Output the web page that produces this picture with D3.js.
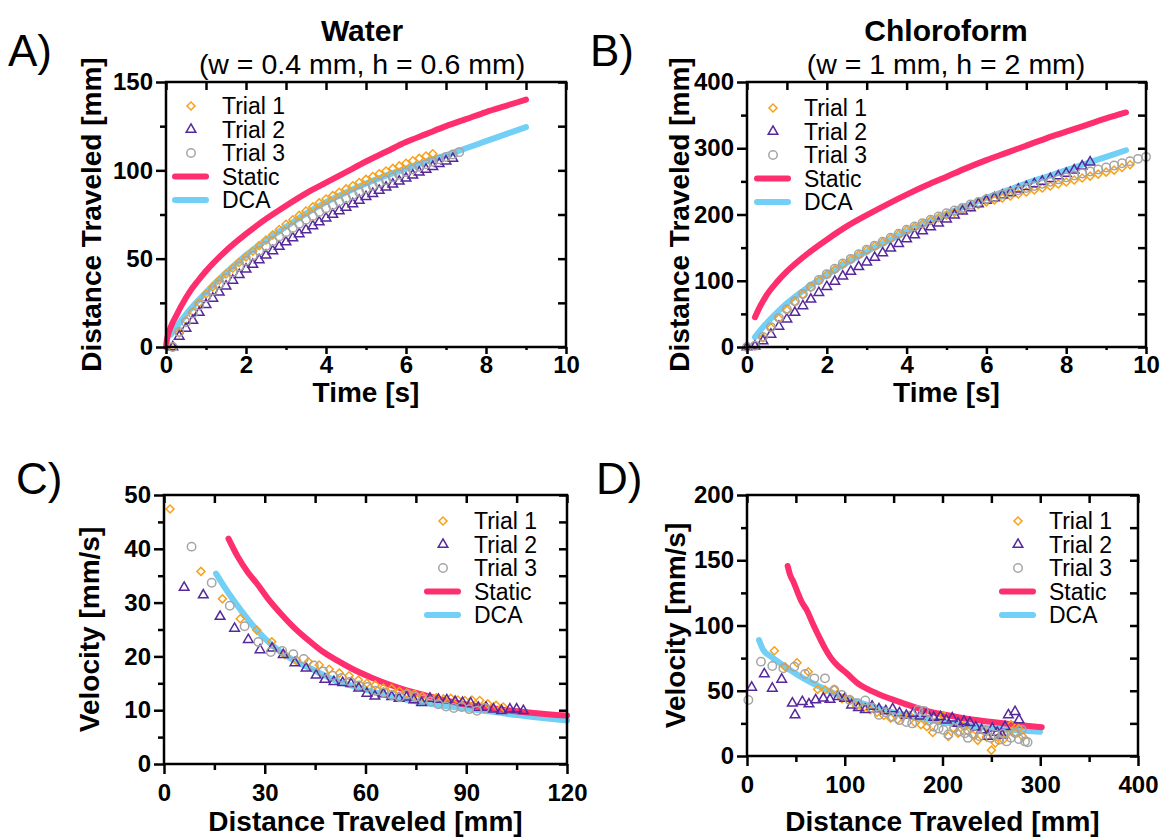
<!DOCTYPE html>
<html>
<head>
<meta charset="utf-8">
<script src="https://cdn.jsdelivr.net/npm/d3@7/dist/d3.min.js"></script>
<style>
  body { margin: 0; background: #fff; }
  svg text { font-family: "Liberation Sans", Arial, sans-serif; fill: #000; }
</style>
</head>
<body>
<svg id="fig" width="1162" height="837"></svg>
<script>
// ---------------- data ----------------
// A) water, distance vs time (frames every ~1/6 s)
var timeA = [0.17,0.33,0.5,0.67,0.83,1,1.17,1.33,1.5,1.67,1.83,2,2.17,2.33,2.5,2.67,2.83,3,3.17,3.33,3.5,3.67,3.83,4,
             4.17,4.33,4.5,4.67,4.83,5,5.17,5.33,5.5,5.67,5.83,6,6.17,6.33,6.5,6.67,6.83,7,7.17,7.33];
var distA1 = [0,8,15,20,25,30,34,37.8,41.3,44.6,47.8,51,54.2,57.4,60.5,63.5,66.5,69.5,72,74.5,77,79.3,81.6,83.8,
              85.7,87.6,89.5,91.3,93.1,94.9,96.5,98.1,99.6,101.1,102.5,104,105.4,106.8,108.1,109.4];
var distA2 = [0,6,10.5,15,19.5,24,27.5,31,34.4,37.7,40.9,44,46.7,49.3,51.9,54.4,56.9,59.4,61.7,64,66.3,68.5,70.7,72.9,
              75,77,79,81,83,85,86.8,88.6,90.4,92.1,93.8,95.5,97.2,98.9,100.5,102.1,103.7,105.2,106.7];
var distA3 = [0,8.5,14,19,23.5,28,31.8,35.4,38.9,42.3,45.6,48.8,51.7,54.5,57.2,59.9,62.5,65,67.4,69.7,72,74.2,76.4,78.5,
              80.4,82.3,84.2,86,87.8,89.6,91.2,92.8,94.4,96,97.5,99,100.5,102,103.4,104.8,106.2,107.6,109,110.3];
var staticTimeA = [0,0.03,0.08,0.15,0.25,0.4,0.6,0.8,1,1.5,2,2.5,3,3.5,4,4.5,5,5.5,6,6.5,7,7.5,8,8.5,9];
var staticDistA = [0,5,9,13,17.5,24,31.5,37.5,43,54.5,64,72.5,80,87,93,99,105,110.5,116,120.5,125,129,133,136.5,140];
var dcaTimeA = [0.12,0.25,0.5,0.75,1,1.5,2,2.5,3,3.5,4,4.5,5,5.5,6,6.5,7,7.5,8,8.5,9];
var dcaDistA = [7,11,18.5,25,31,42,52,60.5,68,75.5,82,87.5,92.5,97,101,105,108.5,112.5,116.5,120.5,124.5];

// B) chloroform, distance vs time (frames every 0.2 s)
var timeB = [0,0.2,0.4,0.6,0.8,1,1.2,1.4,1.6,1.8,2,2.2,2.4,2.6,2.8,3,3.2,3.4,3.6,3.8,4,4.2,4.4,4.6,4.8,5,
             5.2,5.4,5.6,5.8,6,6.2,6.4,6.6,6.8,7,7.2,7.4,7.6,7.8,8,8.2,8.4,8.6,8.8,9,9.2,9.4,9.6,9.8,10];
var distB1 = [0,3,14,29,43,56,68,79,90,100,109,117,125,132,139,146,152,158,164,170,176,181,186,191,195,199,
              203,207,211,215,219,222,225,228,231,234,237,240,243,246,249,252,255,258,261,264,267,271,275];
var distB2 = [0,1,9,19,31,42,52,62,72,82,91,99,107,114,121,128,135,142,149,156,163,169,175,181,187,193,
              199,205,210,216,221,225,229,233,238,242,246,250,254,258,262,267,273,279];
var distB3 = [0,2,15,30,44,57,69,80,91,101,110,118,126,133,140,147,153,159,165,171,177,182,187,192,197,202,
              206,210,215,219,223,226.5,230,233,236.5,240,243,246.5,249.5,253,256,259,262,265,268,271,274,277.5,280.5,284,287];
var staticTimeB = [0.2,0.3,0.4,0.5,0.75,1,1.5,2,2.5,3,3.5,4,4.5,5,5.5,6,6.5,7,7.5,8,8.5,9,9.5];
var staticDistB = [45,58,69,79,98,114,140,162,182,199,215,230,244,257,270,282,293,304,315,325,335,345,354];
var dcaTimeB = [0.2,0.4,0.6,0.8,1,1.5,2,2.5,3,3.5,4,4.5,5,5.5,6,6.5,7,7.5,8,8.5,9,9.5];
var dcaDistB = [15,30,43,55,66,89,109,127,144,159,174,188,201,213,225,236,247,257,267,277,287,297];

// C) water, velocity vs distance
var distC1 = [1.8,11,17.4,22.7,27.6,32.1,36,39.5,43,46.2,49.2,52.2,55.1,57.9,60.4,62.9,65.3,67.8,70.1,72.3,
              74.6,76.9,79.1,81.1,83.2,85.4,87.5,89.6,91.7,94,96.4,98.9,101];
var velC1 = [47.4,35.8,30.7,27,24.9,22.7,20.3,19.3,19,18.4,17.6,16.9,16.4,15.6,15,14.7,14.1,14,13.5,13.2,
             13,12.6,12.4,12.3,12.1,12.2,11.9,11.8,11.9,11.8,11.2,10.9,10.6];
var distC2 = [6,11.7,16.7,21,25.1,28.6,32.2,35.5,39,42.3,45.3,47.9,50.6,53.2,55.7,58,60.4,62.8,65.3,67.8,
              70,72.2,74.4,76.7,79.2,81.7,84.2,86.7,88.9,91.3,93.6,95.9,98.1,100.5,103,105,107];
var velC2 = [32.8,31.4,27.4,25.2,23.1,21.2,21.5,20.3,18.8,17.8,16.5,15.7,15.3,15.1,14.9,14.1,13.1,12.6,13,12.5,
             12.2,12.4,11.9,11.4,12.2,12,11.9,11.6,11.4,11.3,10.5,10.5,10.2,9.9,10.2,10.2,9.9];
var distC3 = [8.2,14.2,19.6,24,28.1,31.8,35.2,38.5,41.6,44.6,47.4,50.2,52.9,55.5,58,60.5,63,65.4,67.8,70.2,
              72.5,74.8,77.1,79.4,81.7,84,86.3,88.6,90.9,93.2,95.5];
var velC3 = [40.4,33.7,29.4,25.6,22.7,20.8,21,20.4,19.5,18.3,17.2,16.4,16,15.3,14.6,14.3,13.6,13.3,12.8,12.4,
             13,12.5,12,11.6,11.1,10.7,10.4,10.6,10.2,9.9,10.4];
var staticDistC = [19.2,22,25,27.6,31,35,38.5,43,47,51.4,56,62,68.3,75,82,88,95,102,110,120];
var staticVelC = [41.9,38.5,35.6,33.6,30.7,27.8,25.5,23,21,19.3,17.7,16,14.5,13.2,12.1,11.3,10.6,10,9.5,9];
var dcaDistC = [15.5,19.5,23.6,27.5,31.6,36,40,43.5,50,58.4,66,72,78.2,85,91,98,105,112,120];
var dcaVelC = [35.4,31.5,28,25,22.4,20.3,18.8,17.8,15.8,14.1,12.8,12,11.3,10.7,10.2,9.7,9.1,8.6,8.1];

// D) chloroform, velocity vs distance
var distD1 = [28,38.9,51.2,62.7,72.3,79.8,89.3,97,105,112,119,126,133,140,147,154,160,166,172,178,
              184,190,196,201,206,211,216,221,226,231,236,241,245,250,254,258,262,266,270,274,278,282];
var velD1 = [80.7,68.4,71.5,64.6,51.1,50.6,51.1,44,43.5,38.5,37,35.5,33.5,31,29,28,30.5,31,25.5,24,
             22.5,18,28,31,15,21.5,17.5,23,19,16,12,20,14.5,4.5,10,15,12.5,17,24,17.5,21,15];
var distD2 = [4.8,17.7,25.9,35.5,46.4,49.1,56.6,63.4,70.2,78.1,84.9,93.4,100,107,114,121,128,135,142,149,
              156,163,170,177,184,191,198,204,210,216,222,228,234,240,246,251,256,261,264,267.4,274.2,278.3];
var velD2 = [52.6,62.8,51.8,58.7,40.4,31.4,41.6,39.8,42.9,44.2,43.4,45.5,44,39,37,35.5,38,36,34.5,36,
             33,31,32.5,30.5,32.5,29.5,30,27.5,29,25,26.5,25.5,22,20,15,21,18,16,22.5,31.4,33.9,27.6];
var distD3 = [1.4,14.3,25.9,37.2,48.4,59.3,68.9,79.8,89.3,97,105,113,121,128,135,142,149,156,163,169,
              175,181,186,191,196,201,206,212,218,223,226,232,238,244,249,253.7,258,262,265.6,270,274.2,278,281,284.4,287];
var velD3 = [42.9,72.3,69,67.2,68.4,62.8,59.5,59.5,50.6,46.7,43,40.4,42.5,37,31.5,33.5,30,27.5,26,25,
             35.2,34.5,27,22.5,21,20,16.5,21.5,19,17.5,13.9,17,15.1,19.5,14,16.3,12.5,17,11.2,14,17.6,13,20.1,11.2,10.5];
var staticDistD = [41.6,44,47.4,52,56,61,67,74,79.8,86,93,102,112,124,136,150,170,187,204,225,248.6,275,301.5];
var staticVelD = [145.6,139,133.6,125,118,111.9,102,91,82.5,75,69,63.4,56.5,51,47,43,37.8,34,31.4,28.5,26.3,24,22];
var dcaDistD = [12.3,16.7,25,35,44,60,78,95,112,130,146,170,197.4,225,248.6,275,299.7];
var dcaVelD = [88.9,81.2,76,70.5,65.9,58.5,51.9,46,41.6,37.5,34,30,26.3,23.5,21.2,19.8,18.6];

var legendNames = ["Trial 1", "Trial 2", "Trial 3", "Static", "DCA"];

// ---------------- drawing ----------------
var svg = d3.select("#fig");

var colT1 = "#f7a11a", colT2 = "#55289c", colT3 = "#a5a5a5";
var colStatic = "#ff2e6e", colDCA = "#72cff5";

var symDiamond = d3.symbol().type(d3.symbolSquare).size(32);
var symTriangle = d3.symbol().type(d3.symbolTriangle).size(40);
var symCircle = d3.symbol().type(d3.symbolCircle).size(56);

var trialStyles = [
  { color: colT1, sym: symDiamond, rot: 45 },
  { color: colT2, sym: symTriangle, rot: 0 },
  { color: colT3, sym: symCircle, rot: 0 }
];

function range(a, b, s) { return d3.range(a, b + s / 2, s); }

function drawPanel(p) {
  var x = d3.scaleLinear().domain(p.xDom).range([p.x0, p.x1]);
  var y = d3.scaleLinear().domain(p.yDom).range([p.y1, p.y0]);
  var g = svg.append("g");

  var line = d3.line().x(d => x(d[0])).y(d => y(d[1])).curve(d3.curveMonotoneX);

  // model curves
  g.append("path").datum(d3.zip(p.dca[0], p.dca[1]))
    .attr("d", line).attr("fill", "none").attr("stroke", colDCA)
    .attr("stroke-width", 6).attr("stroke-linecap", "round");
  g.append("path").datum(d3.zip(p.stat[0], p.stat[1]))
    .attr("d", line).attr("fill", "none").attr("stroke", colStatic)
    .attr("stroke-width", 6).attr("stroke-linecap", "round");

  // trials
  p.trials.forEach(function(tr, i) {
    var st = trialStyles[i];
    var xs = tr[0], ys = tr[1];
    g.append("g").selectAll("path")
      .data(ys.map((v, k) => [xs[k], v]))
      .enter().append("path")
      .attr("d", st.sym)
      .attr("transform", d => `translate(${x(d[0])},${y(d[1])}) rotate(${st.rot})`)
      .attr("fill", "none")
      .attr("stroke", st.color)
      .attr("stroke-width", 1.5);
  });

  // axes: outward ticks with labels on bottom/left
  var bottom = g.append("g").attr("transform", `translate(0,${p.y1})`);
  bottom.append("g").call(d3.axisBottom(x).tickValues(p.xMinor).tickSize(p.xTickLen - 4).tickFormat(""));
  bottom.append("g").call(d3.axisBottom(x).tickValues(p.xMajor).tickSize(p.xTickLen).tickPadding(p.xPad));
  var left = g.append("g").attr("transform", `translate(${p.x0},0)`);
  left.append("g").call(d3.axisLeft(y).tickValues(p.yMinor).tickSize(6).tickFormat(""));
  left.append("g").call(d3.axisLeft(y).tickValues(p.yMajor).tickSize(10).tickPadding(3));

  // inward ticks on top/right
  g.append("g").attr("transform", `translate(0,${p.y0})`)
    .call(d3.axisTop(x).tickValues(p.xMinor.concat(p.xMajor)).tickSize(-8).tickFormat(""));
  g.append("g").attr("transform", `translate(${p.x1},0)`)
    .call(d3.axisRight(y).tickValues(p.yMinor.concat(p.yMajor)).tickSize(-8).tickFormat(""));

  g.selectAll(".domain").remove();
  g.selectAll(".tick line").attr("stroke", "#000").attr("stroke-width", 2.5);
  g.selectAll(".tick text").attr("font-size", 24).attr("font-weight", "bold")
    .attr("font-family", "Liberation Sans, Arial, sans-serif");

  g.append("rect")
    .attr("x", p.x0).attr("y", p.y0)
    .attr("width", p.x1 - p.x0).attr("height", p.y1 - p.y0)
    .attr("fill", "none").attr("stroke", "#000").attr("stroke-width", 2.5);

  // axis titles
  g.append("text").attr("x", (p.x0 + p.x1) / 2).attr("y", p.xTitleY)
    .attr("text-anchor", "middle").attr("font-size", 28).attr("font-weight", "bold")
    .text(p.xTitle);
  g.append("text")
    .attr("transform", `translate(${p.yTitleX},${(p.y0 + p.y1) / 2}) rotate(-90)`)
    .attr("text-anchor", "middle").attr("font-size", 28).attr("font-weight", "bold")
    .text(p.yTitle);

  // legend
  var lg = g.append("g");
  legendNames.forEach(function(name, i) {
    var ly = p.legY + i * 23.5;
    if (i < 3) {
      var st = trialStyles[i];
      lg.append("path").attr("d", st.sym)
        .attr("transform", `translate(${p.legX},${ly}) rotate(${st.rot})`)
        .attr("fill", "none").attr("stroke", st.color).attr("stroke-width", 1.5);
    } else {
      lg.append("line")
        .attr("x1", p.legX - 16).attr("x2", p.legX + 15)
        .attr("y1", ly).attr("y2", ly)
        .attr("stroke", i === 3 ? colStatic : colDCA)
        .attr("stroke-width", 6).attr("stroke-linecap", "round");
    }
    lg.append("text").attr("x", p.legX + 31).attr("y", ly).attr("dy", "0.36em")
      .attr("font-size", 23).text(name);
  });

  // panel letter
  svg.append("text").attr("x", p.tagX).attr("y", p.tagY)
    .attr("font-size", 44).text(p.tag);
}

var panels = [
  { tag: "A)", tagX: 8, tagY: 66,
    x0: 166, x1: 566, y0: 82, y1: 347, xDom: [0, 10], yDom: [0, 150],
    xMajor: range(0, 10, 2), xMinor: range(1, 9, 2),
    yMajor: range(0, 150, 50), yMinor: range(25, 125, 50),
    xTickLen: 7, xPad: 2, xTitleY: 402, yTitleX: 101,
    xTitle: "Time [s]", yTitle: "Distance Traveled [mm]",
    legX: 191, legY: 106,
    trials: [[timeA, distA1], [timeA, distA2], [timeA, distA3]],
    stat: [staticTimeA, staticDistA], dca: [dcaTimeA, dcaDistA] },
  { tag: "B)", tagX: 590, tagY: 66,
    x0: 747, x1: 1146, y0: 82, y1: 347, xDom: [0, 10], yDom: [0, 400],
    xMajor: range(0, 10, 2), xMinor: range(1, 9, 2),
    yMajor: range(0, 400, 100), yMinor: range(50, 350, 100),
    xTickLen: 7, xPad: 2, xTitleY: 402, yTitleX: 689,
    xTitle: "Time [s]", yTitle: "Distance Traveled [mm]",
    legX: 773, legY: 108,
    trials: [[timeB, distB1], [timeB, distB2], [timeB, distB3]],
    stat: [staticTimeB, staticDistB], dca: [dcaTimeB, dcaDistB] },
  { tag: "C)", tagX: 16, tagY: 494,
    x0: 164, x1: 567, y0: 495, y1: 764, xDom: [0, 120], yDom: [0, 50],
    xMajor: range(0, 120, 30), xMinor: range(15, 105, 30),
    yMajor: range(0, 50, 10), yMinor: range(5, 45, 10),
    xTickLen: 10, xPad: 10, xTitleY: 831, yTitleX: 99,
    xTitle: "Distance Traveled [mm]", yTitle: "Velocity [mm/s]",
    legX: 443, legY: 521,
    trials: [[distC1, velC1], [distC2, velC2], [distC3, velC3]],
    stat: [staticDistC, staticVelC], dca: [dcaDistC, dcaVelC] },
  { tag: "D)", tagX: 596, tagY: 494,
    x0: 747, x1: 1138, y0: 495, y1: 756, xDom: [0, 400], yDom: [0, 200],
    xMajor: range(0, 400, 100), xMinor: range(50, 350, 100),
    xTickLen: 10, xPad: 10, xTitleY: 831, yTitleX: 685,
    yMajor: range(0, 200, 50), yMinor: range(25, 175, 50),
    xTitle: "Distance Traveled [mm]", yTitle: "Velocity [mm/s]",
    legX: 1018, legY: 521,
    trials: [[distD1, velD1], [distD2, velD2], [distD3, velD3]],
    stat: [staticDistD, staticVelD], dca: [dcaDistD, dcaVelD] }
];

panels.forEach(drawPanel);

// column titles
var titles = [
  { x: 362, name: "Water", sub: "(w = 0.4 mm, h = 0.6 mm)" },
  { x: 946, name: "Chloroform", sub: "(w = 1 mm, h = 2 mm)" }
];
titles.forEach(function(t) {
  svg.append("text").attr("x", t.x).attr("y", 41).attr("text-anchor", "middle")
    .attr("font-size", 30).attr("font-weight", "bold").text(t.name);
  svg.append("text").attr("x", t.x).attr("y", 74).attr("text-anchor", "middle")
    .attr("font-size", 28.5).text(t.sub);
});
</script>
</body>
</html>
